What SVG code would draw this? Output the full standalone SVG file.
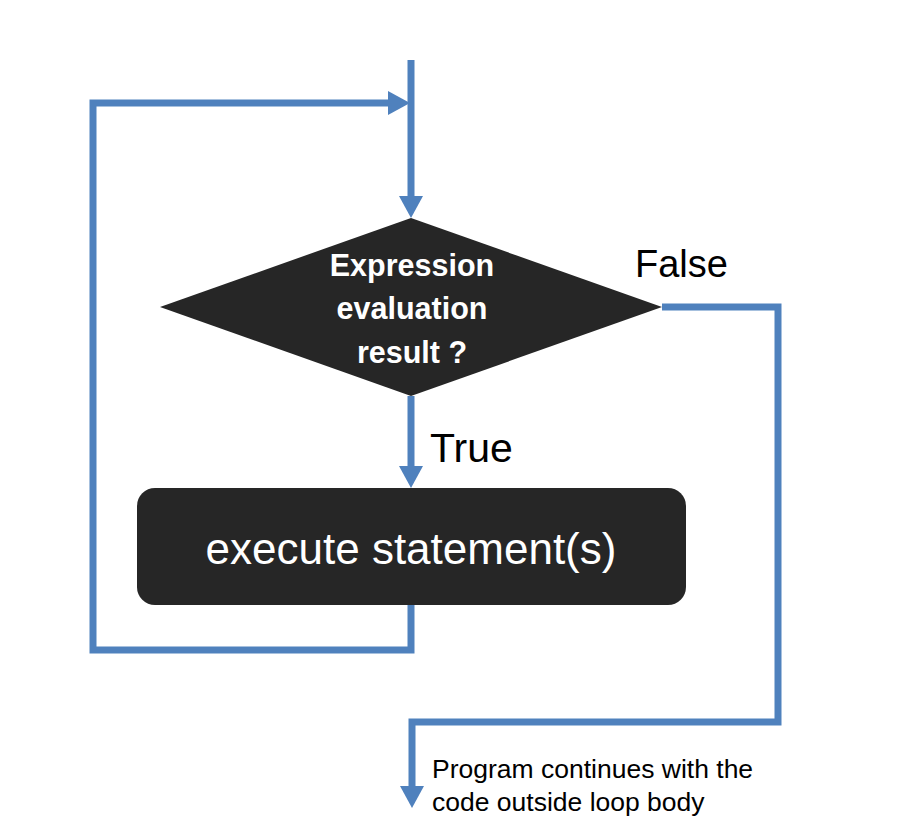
<svg xmlns="http://www.w3.org/2000/svg" width="905" height="827" viewBox="0 0 905 827">
<style>
.conn{fill:none;stroke:#4F81BD;stroke-width:7;stroke-linejoin:miter}
.node{fill:#262626}
.lbl{font-family:"Liberation Sans",Arial,sans-serif;fill:#000}
.wt{font-family:"Liberation Sans",Arial,sans-serif;fill:#fff}
</style>
<defs>
<marker id="ah" markerUnits="userSpaceOnUse" markerWidth="22" markerHeight="24" refX="10" refY="12" orient="auto">
<path d="M0,0 L22,12 L0,24 z" fill="#4F81BD"/>
</marker>
</defs>
<rect width="905" height="827" fill="#fff"/>
<g id="connectors">
<path class="conn" d="M411,60 V206" marker-end="url(#ah)"/>
<path class="conn" d="M411,605 V650 H93 V103 H398" marker-end="url(#ah)"/>
<path class="conn" d="M411,396 V476" marker-end="url(#ah)"/>
<path class="conn" d="M662,307 H778 V722 H412 V796" marker-end="url(#ah)"/>
</g>
<g id="decision">
<polygon class="node" points="411,218 662,307 411,396 160,307"/>
<text class="wt" font-weight="bold" font-size="30.5" text-anchor="middle" x="412" y="276">Expression</text>
<text class="wt" font-weight="bold" font-size="30.5" text-anchor="middle" x="412" y="319">evaluation</text>
<text class="wt" font-weight="bold" font-size="30.5" text-anchor="middle" x="412" y="363">result ?</text>
</g>
<g id="execute">
<rect class="node" x="137" y="488" width="549" height="117" rx="18"/>
<text class="wt" font-size="44" text-anchor="middle" x="411" y="564">execute statement(s)</text>
</g>
<g id="labels">
<text class="lbl" font-size="38" x="635" y="277">False</text>
<text class="lbl" font-size="41" x="430" y="462">True</text>
<text class="lbl" font-size="26.5" x="432" y="778">Program continues with the</text>
<text class="lbl" font-size="26.5" x="432" y="811">code outside loop body</text>
</g>
</svg>
